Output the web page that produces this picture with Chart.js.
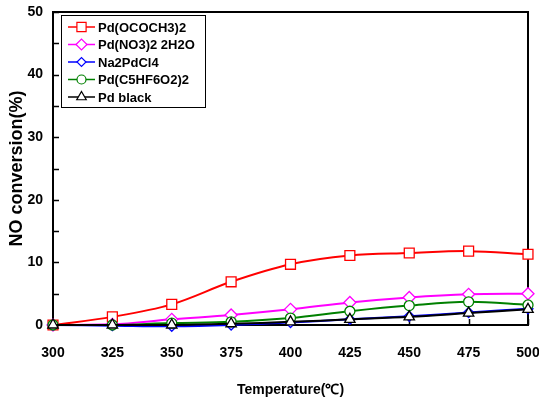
<!DOCTYPE html>
<html>
<head>
<meta charset="utf-8">
<script src="https://cdn.jsdelivr.net/npm/chart.js@4.4.1/dist/chart.umd.min.js"></script>
<style>
html,body{margin:0;padding:0;background:#fff;}
#wrap{width:539px;height:401px;position:relative;}
</style>
</head>
<body>
<div id="wrap"><canvas id="c" width="539" height="401"></canvas></div>
<script>
const temperatures = [300, 325, 350, 375, 400, 425, 450, 475, 500];
const seriesNames = ['Pd(OCOCH3)2', 'Pd(NO3)2 2H2O', 'Na2PdCl4', 'Pd(C5HF6O2)2', 'Pd black'];
const pdAcetate = [0, 1.3, 3.3, 6.9, 9.7, 11.1, 11.5, 11.8, 11.3];
const pdNitrate = [0, 0.1, 0.9, 1.6, 2.5, 3.6, 4.4, 4.9, 5.0];
const na2PdCl4 = [0, -0.1, -0.2, 0.0, 0.4, 0.9, 1.4, 2.0, 2.6];
const pdHfac = [0, 0, 0.3, 0.5, 1.1, 2.2, 3.1, 3.7, 3.2];
const pdBlack = [0, 0, 0, 0.2, 0.5, 0.9, 1.3, 1.9, 2.5];
const yTickLabels = [0, 10, 20, 30, 40, 50];
const xTitle = 'Temperature(\u2103)';
const yTitle = 'NO conversion(%)';

const colors = ['#ff0000', '#ff00ff', '#0000ff', '#008000', '#000000'];
const styles = ['rect', 'rectRot', 'rectRot', 'circle', 'triangle'];
const radii = [7, 6, 5, 5, 6];
const values = [pdAcetate, pdNitrate, na2PdCl4, pdHfac, pdBlack];

const datasets = values.map((arr, i) => ({
  label: seriesNames[i],
  data: arr.map((v, j) => ({x: temperatures[j], y: v})),
  borderColor: colors[i],
  backgroundColor: '#ffffff',
  pointBackgroundColor: '#ffffff',
  pointBorderColor: colors[i],
  pointStyle: styles[i],
  pointRadius: radii[i],
  pointBorderWidth: 1.3,
  borderWidth: 2,
  tension: 0.35,
  clip: false,
  order: 5 - i
}));

const FONT = "'Liberation Sans', Arial, sans-serif";

const framePlugin = {
  id: 'frame',
  beforeDatasetsDraw(chart) {
    const {ctx, chartArea: a, scales} = chart;
    ctx.save();
    ctx.strokeStyle = '#000';
    ctx.lineWidth = 2;
    ctx.strokeRect(a.left, a.top, a.right - a.left, a.bottom - a.top);
    ctx.lineWidth = 1.5;
    ctx.beginPath();
    scales.y.ticks.forEach(t => {
      const y = Math.round(scales.y.getPixelForValue(t.value)) + 0.5;
      ctx.moveTo(a.left, y); ctx.lineTo(a.left + 6, y);
    });
    scales.x.ticks.forEach(t => {
      const x = Math.round(scales.x.getPixelForValue(t.value)) + 0.5;
      ctx.moveTo(x, a.bottom); ctx.lineTo(x, a.bottom - 6);
    });
    ctx.stroke();
    ctx.restore();
  },
  afterDraw(chart) {
    const ctx = chart.ctx;
    const bx = 61.5, by = 15.5, bw = 144, bh = 92;
    ctx.save();
    ctx.fillStyle = '#fff';
    ctx.fillRect(bx, by, bw, bh);
    ctx.strokeStyle = '#000';
    ctx.lineWidth = 1;
    ctx.strokeRect(bx, by, bw, bh);
    chart.data.datasets.forEach((ds, i) => {
      const y = 27 + i * 17.5;
      ctx.strokeStyle = ds.borderColor;
      ctx.lineWidth = 1.5;
      ctx.beginPath();
      ctx.moveTo(68, y); ctx.lineTo(95, y);
      ctx.stroke();
      ctx.fillStyle = '#fff';
      ctx.strokeStyle = ds.borderColor;
      ctx.lineWidth = 1.2;
      Chart.helpers.drawPoint(ctx, {pointStyle: ds.pointStyle, radius: ds.pointRadius - 0.5, rotation: 0, borderWidth: 1.2}, 81.5, y);
      ctx.fillStyle = '#000';
      ctx.font = "bold 13px " + FONT;
      ctx.textBaseline = 'middle';
      ctx.textAlign = 'left';
      ctx.fillText(ds.label, 98, y + 1);
    });
    ctx.restore();
  }
};

new Chart(document.getElementById('c'), {
  type: 'line',
  data: {datasets},
  options: {
    responsive: false,
    animation: false,
    devicePixelRatio: 1,
    layout: {padding: {top: 12, right: 11, left: 0, bottom: 0}},
    plugins: {legend: {display: false}, tooltip: {enabled: false}},
    scales: {
      x: {
        type: 'linear', min: 300, max: 500,
        afterFit(s) { s.height = 76; s.paddingLeft = 0; s.paddingRight = 0; },
        grid: {display: false, drawTicks: false},
        border: {display: false},
        ticks: {stepSize: 25, padding: 20, color: '#000', font: {family: FONT, size: 14, weight: 'bold'}, maxRotation: 0,
          callback: v => temperatures.includes(v) ? String(v) : ''},
        title: {display: true, text: xTitle, color: '#000', font: {family: FONT, size: 14, weight: 'bold'}, padding: {top: 0, bottom: 2}}
      },
      y: {
        min: 0, max: 50,
        afterFit(s) { s.width = 53; s.paddingTop = 0; s.paddingBottom = 0; },
        grid: {display: false, drawTicks: false},
        border: {display: false},
        ticks: {stepSize: 5, padding: 10, color: '#000', font: {family: FONT, size: 14, weight: 'bold'},
          callback: v => yTickLabels.includes(v) ? String(v) : ''},
        title: {display: true, text: yTitle, color: '#000', font: {family: FONT, size: 18, weight: 'bold'}, padding: {top: 6, bottom: 0}}
      }
    }
  },
  plugins: [framePlugin]
});
</script>
</body>
</html>
